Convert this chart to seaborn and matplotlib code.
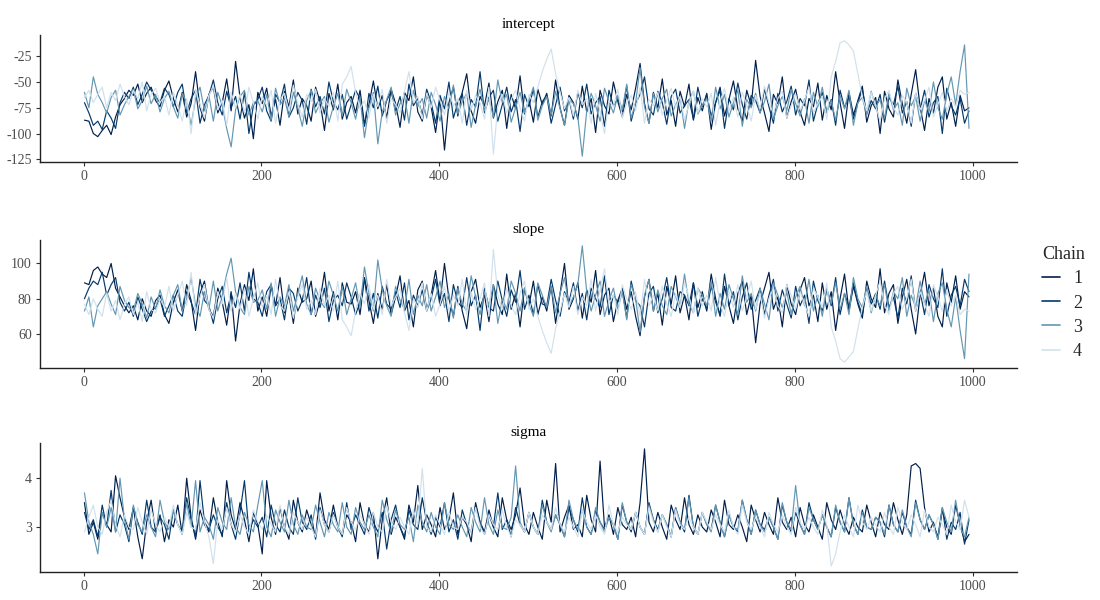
import numpy as np
import pandas as pd
import matplotlib
matplotlib.use("Agg")
import matplotlib.pyplot as plt
import seaborn as sns
from matplotlib.lines import Line2D

# ---- data (every 5th iteration) ----
iterations = list(range(1, 1001, 5))
chains = ["1", "2", "3", "4"]
params = ["intercept", "slope", "sigma"]

intercept_c1 = [-87, -88, -100, -103, -97, -92, -101, -84, -72, -66, -58, -63, -52, -70, -61, -55, -68, -74, -58, -49,
                -66, -79, -60, -84, -71, -40, -75, -88, -62, -55, -80, -70, -47, -78, -30, -65, -85, -72, -105, -60,
                -71, -56, -83, -67, -92, -59, -74, -48, -81, -66, -73, -88, -55, -69, -97, -61, -77, -52, -86, -70,
                -64, -80, -58, -91, -72, -49, -76, -63, -85, -57, -71, -94, -60, -68, -45, -79, -88, -62, -74, -99,
                -66, -116, -70, -55, -83, -60, -42, -78, -90, -64, -73, -51, -85, -69, -58, -95, -62, -76, -44, -81,
                -67, -89, -57, -72, -61, -83, -48, -75, -92, -63, -70, -86, -54, -79, -66, -99, -58, -73, -81, -50,
                -69, -84, -62, -77, -56, -32, -71, -90, -60, -75, -47, -82, -68, -93, -59, -74, -52, -87, -65, -78,
                -61, -96, -70, -55, -83, -67, -49, -76, -88, -58, -73, -29, -64, -80, -98, -62, -71, -45, -85, -69,
                -57, -79, -92, -66, -74, -51, -87, -63, -77, -40, -70, -95, -60, -82, -68, -54, -89, -73, -65, -100,
                -59, -76, -84, -48, -71, -90, -62, -38, -74, -97, -66, -80, -55, -45, -86, -70, -93, -63, -78, -75]
intercept_c2 = [-70, -80, -92, -88, -96, -78, -85, -95, -70, -60, -66, -55, -72, -62, -50, -58, -64, -70, -56, -62,
                -74, -60, -52, -80, -66, -58, -90, -72, -63, -48, -70, -82, -59, -75, -64, -86, -60, -100, -73, -67,
                -55, -78, -88, -62, -70, -52, -84, -75, -60, -68, -91, -57, -74, -64, -81, -50, -69, -77, -62, -86,
                -72, -58, -66, -93, -61, -75, -54, -83, -68, -59, -78, -64, -87, -52, -73, -66, -82, -57, -70, -90,
                -63, -76, -50, -85, -70, -61, -92, -67, -74, -40, -80, -65, -58, -88, -72, -55, -79, -67, -98, -62,
                -74, -57, -84, -69, -63, -90, -72, -55, -78, -66, -86, -60, -75, -52, -81, -70, -64, -93, -58, -73,
                -66, -79, -54, -88, -71, -62, -45, -76, -82, -59, -70, -91, -64, -57, -80, -73, -67, -86, -55, -74,
                -62, -83, -70, -58, -95, -66, -77, -51, -72, -86, -63, -68, -80, -57, -74, -90, -61, -79, -69, -54,
                -82, -66, -73, -48, -88, -71, -60, -79, -67, -92, -58, -75, -64, -86, -70, -57, -81, -68, -76, -62,
                -89, -65, -72, -54, -80, -69, -93, -61, -77, -58, -84, -70, -64, -100, -56, -73, -82, -66, -90, -78]
intercept_c3 = [-60, -75, -45, -62, -70, -80, -65, -58, -82, -72, -64, -57, -76, -68, -54, -71, -62, -79, -66, -59,
                -74, -85, -61, -70, -92, -66, -55, -78, -63, -88, -60, -73, -95, -113, -77, -64, -58, -82, -70, -68,
                -79, -62, -87, -56, -72, -66, -84, -60, -75, -93, -68, -58, -80, -71, -64, -89, -74, -61, -83, -57,
                -70, -86, -65, -104, -75, -60, -110, -79, -67, -55, -82, -71, -63, -90, -58, -74, -66, -85, -60, -72,
                -88, -64, -76, -53, -81, -69, -61, -94, -72, -57, -78, -66, -84, -48, -70, -62, -89, -75, -60, -80,
                -68, -55, -87, -73, -64, -82, -59, -76, -92, -67, -71, -84, -122, -78, -61, -73, -88, -56, -69, -80,
                -63, -77, -52, -85, -70, -36, -74, -90, -61, -79, -66, -57, -83, -72, -64, -95, -68, -59, -81, -73,
                -66, -88, -55, -76, -62, -84, -70, -58, -93, -67, -75, -61, -80, -69, -52, -86, -73, -64, -78, -57,
                -71, -83, -66, -90, -60, -74, -55, -80, -68, -87, -63, -76, -58, -92, -70, -65, -82, -59, -74, -67,
                -85, -61, -77, -70, -92, -56, -73, -64, -88, -68, -79, -50, -75, -86, -62, -45, -72, -40, -14, -95]
intercept_c4 = [-65, -58, -70, -62, -55, -75, -60, -68, -52, -64, -72, -58, -66, -50, -78, -62, -56, -70, -64, -82,
                -60, -73, -88, -66, -100, -58, -72, -85, -63, -54, -77, -68, -92, -60, -75, -62, -80, -55, -70, -86,
                -64, -73, -58, -90, -67, -61, -78, -53, -71, -84, -62, -69, -57, -80, -66, -74, -60, -88, -52, -45,
                -35, -60, -76, -68, -85, -62, -74, -57, -90, -66, -72, -80, -59, -40, -70, -64, -86, -61, -75, -55,
                -68, -82, -60, -73, -66, -90, -58, -77, -63, -70, -86, -55, -120, -74, -62, -80, -67, -58, -75, -88,
                -62, -70, -55, -40, -28, -18, -42, -60, -76, -65, -83, -58, -72, -66, -90, -61, -79, -100, -68, -74,
                -57, -85, -70, -63, -78, -55, -90, -67, -73, -60, -82, -68, -56, -75, -64, -87, -71, -59, -80, -66,
                -74, -61, -92, -69, -56, -78, -65, -84, -60, -72, -88, -63, -76, -54, -70, -81, -66, -59, -85, -73,
                -62, -77, -68, -55, -80, -71, -64, -86, -45, -30, -12, -10, -14, -20, -42, -65, -78, -60, -73, -88,
                -66, -58, -75, -82, -63, -70, -90, -61, -77, -68, -55, -84, -72, -60, -79, -66, -74, -58, -62, -60]

slope_c1 = [89, 88, 96, 98, 94, 92, 100, 86, 81, 76, 72, 76, 68, 80, 73, 70, 79, 82, 71, 66,
            78, 85, 73, 88, 79, 62, 83, 90, 74, 70, 86, 78, 65, 84, 56, 77, 88, 79, 97, 73,
            81, 70, 87, 76, 92, 72, 82, 66, 86, 78, 80, 90, 70, 79, 95, 73, 84, 68, 89, 78,
            77, 84, 71, 92, 79, 66, 83, 74, 88, 71, 81, 93, 73, 79, 64, 85, 90, 74, 82, 96,
            78, 100, 80, 70, 87, 73, 63, 84, 91, 75, 82, 67, 88, 77, 71, 94, 74, 83, 64, 86,
            76, 90, 71, 81, 73, 87, 66, 83, 100, 74, 80, 89, 69, 85, 78, 96, 71, 82, 86, 67,
            79, 86, 74, 84, 70, 59, 81, 91, 73, 83, 65, 87, 77, 93, 72, 82, 68, 89, 75, 84,
            73, 94, 80, 70, 87, 76, 66, 83, 90, 71, 82, 55, 77, 86, 95, 74, 81, 64, 88, 77,
            71, 85, 92, 76, 82, 67, 89, 74, 84, 62, 80, 94, 73, 87, 77, 69, 90, 80, 75, 97,
            72, 83, 88, 66, 81, 91, 74, 60, 82, 95, 76, 86, 70, 64, 89, 78, 93, 74, 84, 81]
slope_c2 = [80, 86, 90, 88, 95, 82, 88, 92, 78, 73, 78, 70, 81, 74, 67, 73, 75, 80, 70, 76,
            82, 73, 70, 84, 78, 71, 91, 79, 76, 66, 80, 87, 72, 83, 75, 89, 73, 95, 80, 78,
            70, 84, 88, 76, 80, 68, 86, 83, 73, 79, 92, 71, 82, 75, 86, 67, 79, 82, 76, 89,
            81, 71, 78, 91, 73, 83, 69, 87, 77, 74, 84, 75, 89, 68, 82, 76, 85, 73, 80, 91,
            76, 83, 67, 88, 78, 75, 92, 76, 82, 62, 86, 75, 73, 90, 79, 70, 85, 78, 96, 74,
            82, 71, 88, 77, 76, 91, 79, 70, 84, 78, 89, 73, 83, 68, 86, 80, 75, 93, 71, 82,
            78, 85, 69, 90, 79, 76, 64, 83, 87, 72, 80, 92, 75, 73, 84, 82, 76, 89, 70, 80,
            74, 87, 78, 71, 94, 76, 84, 68, 81, 89, 74, 79, 86, 71, 82, 91, 73, 85, 77, 69,
            87, 76, 82, 66, 90, 79, 73, 85, 76, 92, 71, 83, 75, 89, 78, 71, 86, 77, 83, 74,
            90, 75, 81, 69, 86, 77, 93, 73, 84, 71, 88, 80, 75, 97, 70, 82, 87, 76, 91, 84]
slope_c3 = [73, 81, 64, 76, 80, 84, 77, 71, 87, 79, 75, 73, 83, 77, 69, 81, 74, 85, 76, 72,
            82, 88, 73, 80, 92, 76, 70, 84, 74, 90, 73, 82, 94, 103, 84, 75, 71, 87, 78, 79,
            85, 74, 89, 70, 81, 76, 88, 73, 83, 93, 77, 71, 86, 79, 75, 90, 82, 73, 87, 71,
            80, 89, 75, 98, 83, 73, 102, 85, 76, 70, 87, 79, 74, 91, 71, 82, 76, 88, 73, 81,
            90, 75, 83, 69, 86, 77, 73, 93, 81, 71, 84, 76, 88, 66, 80, 74, 90, 83, 73, 86,
            77, 70, 89, 82, 75, 87, 72, 83, 92, 76, 81, 88, 110, 84, 73, 82, 90, 70, 79, 86,
            74, 84, 68, 88, 80, 61, 82, 91, 73, 85, 76, 71, 87, 81, 75, 94, 77, 72, 86, 82,
            76, 90, 70, 83, 74, 88, 80, 71, 93, 78, 83, 73, 86, 77, 68, 89, 82, 75, 84, 71,
            81, 87, 76, 91, 73, 82, 70, 86, 77, 89, 74, 83, 71, 92, 80, 75, 87, 72, 82, 76,
            88, 73, 84, 80, 92, 70, 82, 75, 90, 77, 85, 67, 83, 89, 74, 64, 81, 62, 46, 94]
slope_c4 = [77, 71, 80, 74, 70, 83, 73, 79, 68, 77, 81, 71, 78, 67, 84, 74, 72, 80, 75, 87,
            73, 82, 90, 76, 95, 71, 81, 88, 74, 69, 84, 77, 92, 73, 83, 74, 86, 70, 80, 89,
            75, 82, 71, 91, 76, 73, 84, 69, 81, 88, 74, 79, 71, 86, 76, 82, 73, 90, 68, 64,
            59, 73, 83, 77, 88, 74, 82, 71, 91, 76, 81, 86, 72, 62, 80, 75, 89, 73, 83, 70,
            77, 87, 73, 82, 76, 91, 71, 84, 74, 80, 89, 70, 108, 82, 74, 86, 76, 71, 83, 90,
            74, 80, 70, 62, 55, 49, 63, 73, 83, 75, 87, 71, 81, 76, 91, 73, 85, 97, 77, 82,
            71, 88, 80, 74, 84, 70, 91, 76, 82, 73, 87, 77, 70, 83, 75, 89, 81, 72, 86, 76,
            82, 73, 92, 77, 70, 84, 75, 88, 73, 81, 90, 74, 83, 69, 80, 86, 76, 72, 88, 82,
            74, 84, 77, 70, 86, 81, 75, 89, 64, 56, 46, 44, 47, 50, 63, 75, 84, 73, 82, 90,
            76, 71, 83, 87, 74, 80, 91, 73, 84, 77, 70, 88, 81, 73, 85, 76, 82, 71, 74, 73]

sigma_c1 = [3.50, 2.85, 3.10, 2.75, 3.30, 3.05, 2.90, 4.05, 3.60, 3.20, 2.95, 3.40, 2.80, 2.35, 3.10, 3.55, 2.90, 3.25, 2.70, 3.15,
            3.00, 3.45, 2.85, 4.00, 3.20, 2.75, 3.35, 3.05, 2.90, 3.60, 3.10, 2.80, 3.95, 3.25, 2.95, 3.50, 3.15, 2.70, 3.30, 3.05,
            2.45, 3.95, 3.20, 2.85, 3.40, 3.00, 2.75, 3.55, 3.10, 2.90, 3.35, 3.05, 2.80, 3.70, 3.15, 2.95, 3.45, 3.00, 2.85, 3.25,
            3.10, 2.70, 3.50, 3.05, 2.90, 3.30, 2.35, 3.15, 3.60, 2.85, 3.20, 3.00, 2.75, 3.45, 3.10, 3.85, 2.95, 3.25, 3.05, 2.80,
            3.40, 2.95, 3.15, 3.70, 2.85, 3.20, 3.05, 2.70, 3.50, 3.10, 2.90, 3.35, 3.00, 2.80, 3.60, 3.15, 2.95, 3.25, 3.80, 3.05,
            2.85, 3.30, 3.00, 2.75, 3.55, 3.10, 4.30, 2.90, 3.20, 3.45, 2.95, 3.05, 2.80, 3.65, 3.15, 2.90, 4.35, 3.00, 3.25, 2.85,
            3.40, 3.05, 2.95, 3.20, 2.80, 3.50, 4.60, 3.10, 2.90, 3.30, 3.00, 2.75, 3.45, 3.15, 2.95, 3.60, 3.05, 2.85, 3.25, 3.00,
            2.90, 3.35, 3.10, 2.80, 3.55, 3.05, 2.95, 3.25, 3.00, 2.70, 3.45, 3.15, 2.90, 3.30, 3.05, 2.85, 3.60, 3.10, 2.95, 3.20,
            2.80, 3.40, 3.05, 2.90, 3.25, 3.00, 2.75, 3.50, 3.15, 2.95, 3.35, 3.05, 2.85, 3.20, 3.00, 2.90, 3.45, 3.10, 2.80, 3.30,
            3.05, 2.95, 3.50, 3.15, 2.85, 3.25, 4.25, 4.30, 4.20, 3.40, 2.90, 3.10, 2.75, 3.35, 3.00, 2.85, 3.45, 3.05, 2.70, 2.85]
sigma_c2 = [3.30, 2.95, 3.15, 2.80, 3.45, 3.00, 3.75, 2.90, 3.25, 3.05, 2.70, 3.40, 3.10, 2.85, 3.55, 3.00, 2.90, 3.20, 3.05, 2.75,
            3.35, 3.05, 2.90, 3.60, 3.15, 2.80, 3.95, 3.10, 2.95, 3.25, 3.00, 2.85, 3.50, 3.05, 2.75, 3.30, 3.95, 2.90, 3.15, 3.00,
            3.20, 2.80, 3.45, 3.05, 2.90, 3.35, 3.00, 2.85, 3.60, 3.10, 2.95, 3.25, 2.75, 3.40, 3.05, 2.90, 3.30, 3.00, 2.80, 3.50,
            2.95, 3.25, 3.05, 2.85, 3.40, 3.10, 2.90, 3.30, 2.55, 3.15, 3.45, 3.00, 2.80, 3.35, 3.05, 2.95, 3.60, 3.10, 2.85, 3.20,
            3.00, 3.50, 2.90, 3.15, 2.75, 3.35, 3.05, 2.90, 3.45, 3.10, 2.85, 3.25, 3.00, 3.70, 2.95, 3.15, 2.80, 3.40, 3.05, 2.90,
            3.30, 3.00, 2.85, 3.55, 3.10, 2.95, 3.25, 3.05, 2.80, 3.40, 3.15, 2.90, 3.60, 3.00, 2.85, 3.35, 3.10, 2.95, 3.20, 3.05,
            2.75, 3.45, 3.10, 2.90, 3.30, 3.00, 2.85, 3.50, 3.15, 2.95, 3.25, 3.05, 2.80, 3.40, 3.10, 2.90, 3.65, 3.00, 2.85, 3.30,
            3.05, 2.95, 3.45, 3.10, 2.80, 3.25, 3.00, 2.90, 3.55, 3.15, 2.85, 3.35, 3.05, 2.95, 3.20, 3.00, 2.75, 3.45, 3.10, 2.90,
            3.30, 3.05, 2.85, 3.50, 3.15, 2.95, 3.25, 3.00, 2.80, 3.40, 3.10, 2.90, 3.60, 3.05, 2.85, 3.35, 3.00, 2.95, 3.20, 3.10,
            2.80, 3.45, 3.05, 2.90, 3.30, 3.00, 2.85, 3.55, 3.15, 2.95, 3.25, 3.05, 2.80, 3.40, 2.75, 3.10, 2.95, 3.30, 2.65, 3.15]
sigma_c3 = [3.70, 3.10, 2.85, 2.45, 3.30, 3.00, 3.40, 2.90, 4.00, 3.15, 2.75, 3.45, 3.05, 2.90, 3.25, 3.00, 2.80, 3.55, 3.10, 2.95,
            3.35, 3.05, 2.85, 3.50, 3.00, 3.95, 2.90, 3.20, 3.05, 2.75, 3.40, 3.10, 2.95, 3.60, 3.00, 2.85, 3.30, 3.05, 2.90, 3.45,
            3.95, 3.00, 2.80, 3.35, 3.10, 2.90, 3.55, 3.05, 2.85, 3.25, 3.00, 2.95, 3.45, 3.10, 2.80, 3.30, 3.05, 2.90, 3.50, 3.00,
            2.85, 3.40, 3.10, 2.95, 3.25, 3.00, 2.80, 3.55, 3.15, 2.90, 3.35, 3.05, 2.95, 3.20, 2.70, 3.45, 3.10, 2.90, 3.30, 3.00,
            2.85, 3.50, 3.05, 2.95, 3.25, 3.00, 2.80, 3.40, 3.10, 2.90, 3.60, 3.05, 2.85, 3.35, 3.00, 2.95, 3.20, 4.25, 3.10, 2.90,
            3.30, 3.00, 2.85, 3.45, 3.10, 2.90, 3.25, 3.05, 2.80, 3.55, 3.15, 2.95, 3.35, 3.00, 2.85, 3.40, 3.10, 2.90, 3.20, 3.05,
            2.75, 3.50, 3.10, 2.95, 3.30, 3.00, 2.85, 3.45, 3.15, 2.90, 3.25, 3.05, 2.80, 3.40, 3.10, 2.95, 3.60, 3.00, 2.85, 3.30,
            3.05, 2.90, 3.45, 3.10, 2.80, 3.25, 3.00, 2.95, 3.55, 3.15, 2.85, 3.35, 3.05, 2.90, 3.20, 3.00, 2.75, 3.50, 3.10, 2.95,
            3.85, 3.05, 2.85, 3.40, 3.15, 2.95, 3.25, 3.00, 2.80, 3.45, 3.10, 2.90, 3.60, 3.05, 2.85, 3.30, 3.00, 2.95, 3.20, 3.10,
            2.85, 3.45, 3.05, 2.90, 3.35, 3.00, 2.80, 3.50, 3.15, 2.95, 3.25, 3.05, 2.75, 3.40, 3.10, 2.90, 3.55, 3.00, 2.80, 3.20]
sigma_c4 = [2.90, 3.20, 3.45, 3.00, 2.85, 3.30, 3.55, 3.05, 2.80, 3.25, 3.00, 2.95, 3.40, 3.10, 2.85, 3.35, 3.05, 2.90, 3.20, 3.00,
            3.45, 3.05, 2.85, 3.30, 3.00, 2.95, 3.50, 3.10, 2.80, 2.25, 3.15, 2.95, 3.40, 3.05, 2.90, 3.25, 3.00, 2.85, 3.35, 3.10,
            2.95, 3.25, 3.05, 2.90, 3.45, 3.00, 2.85, 3.30, 3.10, 2.95, 3.20, 3.00, 2.80, 3.35, 3.05, 2.90, 3.25, 3.00, 2.85, 3.40,
            3.10, 2.95, 3.25, 3.05, 2.85, 3.30, 3.00, 2.90, 3.45, 3.10, 2.95, 3.20, 3.00, 2.85, 3.35, 3.05, 4.20, 3.00, 2.90, 3.25,
            3.05, 2.85, 3.30, 3.00, 2.95, 3.20, 3.10, 2.90, 3.40, 3.00, 2.85, 3.25, 3.05, 2.95, 3.35, 3.00, 2.80, 3.15, 3.05, 2.90,
            3.30, 3.00, 2.85, 3.25, 3.10, 2.95, 3.40, 3.05, 2.90, 3.20, 3.00, 2.80, 3.35, 3.10, 2.95, 3.25, 3.00, 2.85, 3.45, 3.05,
            2.90, 3.20, 3.05, 2.95, 3.30, 3.00, 2.85, 3.40, 3.10, 2.90, 3.25, 3.00, 2.80, 3.35, 3.05, 2.95, 3.20, 3.00, 2.85, 3.30,
            3.10, 2.95, 3.25, 3.05, 2.90, 3.35, 3.00, 2.85, 3.45, 3.10, 2.95, 3.20, 3.00, 2.80, 3.30, 3.05, 2.90, 3.25, 3.00, 2.85,
            3.40, 3.10, 2.95, 3.20, 3.00, 2.85, 3.35, 3.05, 2.20, 2.45, 2.90, 3.25, 3.00, 2.80, 3.45, 3.10, 2.95, 3.20, 3.05, 2.90,
            3.30, 3.00, 2.85, 3.40, 3.10, 2.95, 3.25, 3.05, 2.80, 3.35, 3.00, 2.90, 3.20, 3.05, 2.85, 3.45, 3.10, 2.95, 3.55, 3.20]

x_ticks = [0, 200, 400, 600, 800, 1000]
y_ticks = {"intercept": [-125, -100, -75, -50, -25], "slope": [60, 80, 100], "sigma": [3, 4]}
chain_colors = ["#011f4b", "#03396c", "#6497b1", "#d1e1ec"]

series = {
    "intercept": [intercept_c1, intercept_c2, intercept_c3, intercept_c4],
    "slope": [slope_c1, slope_c2, slope_c3, slope_c4],
    "sigma": [sigma_c1, sigma_c2, sigma_c3, sigma_c4],
}

# ---- long-form frame ----
rows = []
for p in params:
    for ch, vals in zip(chains, series[p]):
        for it, v in zip(iterations, vals):
            rows.append((p, ch, it, v))
df = pd.DataFrame(rows, columns=["param", "Chain", "iteration", "value"])

# ---- styling ----
sns.set_style("white")
plt.rcParams["font.family"] = ["Liberation Serif", "DejaVu Serif"]
plt.rcParams["axes.unicode_minus"] = False

fig = plt.figure(figsize=(11, 6), dpi=100)
W, H = 1100, 600
panel_px = [(35, 162), (240, 368), (443, 572)]  # top, bottom pixel
left_px, right_px = 40, 1017
palette = dict(zip(chains, chain_colors))

for p, (top, bot) in zip(params, panel_px):
    ax = fig.add_axes([left_px / W, 1 - bot / H, (right_px - left_px) / W, (bot - top) / H])
    sub = df[df["param"] == p]
    sns.lineplot(data=sub, x="iteration", y="value", hue="Chain", hue_order=chains,
                 palette=palette, linewidth=0.85, estimator=None, sort=False,
                 legend=False, ax=ax)
    ax.set_xlim(-49, 1050)
    ax.margins(y=0.05)
    ax.set_xticks(x_ticks)
    ax.set_yticks(y_ticks[p])
    ax.set_xlabel("")
    ax.set_ylabel("")
    ax.set_title(p, fontsize=11, color="black", pad=5)
    sns.despine(ax=ax)
    for s in ["left", "bottom"]:
        ax.spines[s].set_color("#222222")
        ax.spines[s].set_linewidth(1.0)
    ax.tick_params(axis="both", which="both", length=3, width=0.8, color="#333333",
                   labelsize=10, labelcolor="#4d4d4d", direction="out",
                   bottom=True, left=True, pad=3)

handles = [Line2D([0], [0], color=c, lw=1.2) for c in chain_colors]
leg = fig.legend(handles, chains, title="Chain", loc="center left",
                 bbox_to_anchor=(1026 / W, 1 - 303 / H), frameon=False,
                 fontsize=13, title_fontsize=13, handlelength=1.0,
                 labelspacing=0.4, handletextpad=0.7)
leg._legend_box.align = "left"

fig.savefig("out.png", dpi=100)
